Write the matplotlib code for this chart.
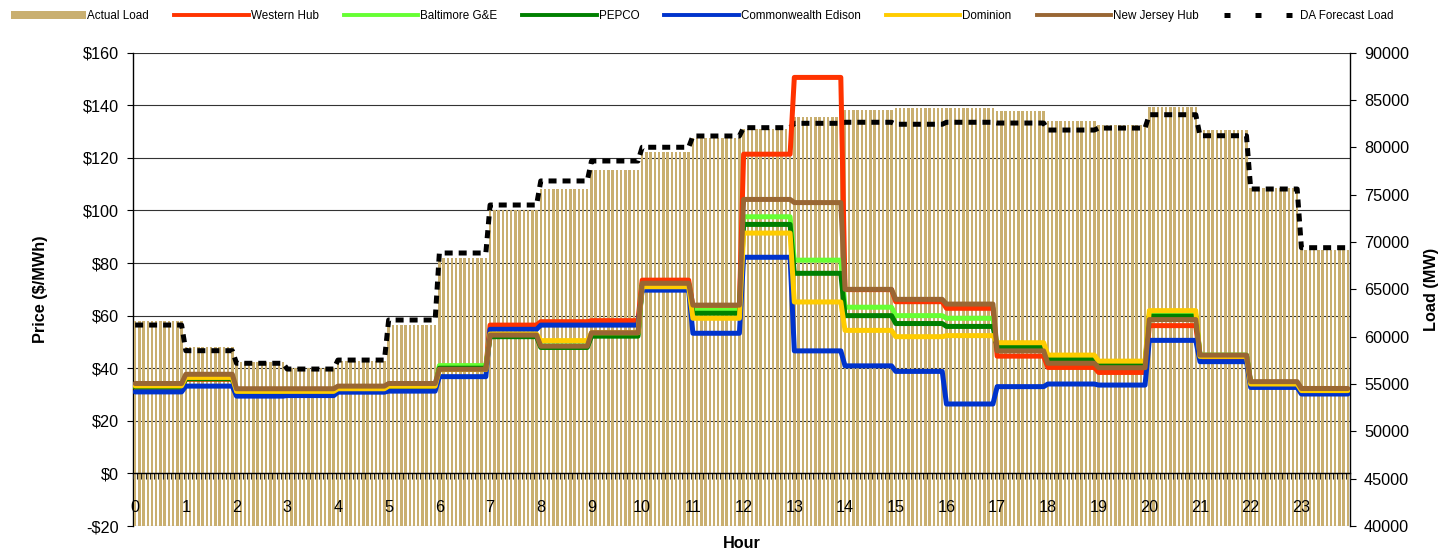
import numpy as np
import matplotlib
matplotlib.use("Agg")
import matplotlib.pyplot as plt
from matplotlib.lines import Line2D
from matplotlib.patches import Patch
from matplotlib.ticker import FuncFormatter, FixedLocator

plt.rcParams['font.family'] = ['Liberation Sans', 'DejaVu Sans']

hours = list(range(24))
hour_labels = [str(h) for h in hours]

actual_load = [61650, 58880, 57350, 56660, 57430, 61230, 68310, 73380, 75600, 77610,
               79510, 80960, 81940, 83240, 83950, 84130, 84130, 83840, 82780, 82360,
               84300, 81830, 75740, 69160]
da_forecast = [61230, 58520, 57190, 56580, 57530, 61760, 68840, 73910, 76450, 78560,
               80010, 81200, 82080, 82540, 82650, 82440, 82650, 82570, 81830, 82040,
               83450, 81230, 75600, 69400]

western_hub = [32.7, 35.8, 30.4, 30.5, 31.7, 32.6, 40.2, 56.4, 57.7, 58.1, 73.5, 63.5,
               121.4, 150.6, 69.9, 65.3, 62.8, 44.6, 40.3, 38.4, 56.2, 43.8, 33.8, 31.2]
baltimore = [33.0, 36.2, 30.8, 30.8, 32.0, 33.0, 41.0, 52.5, 48.5, 52.8, 71.5, 62.1,
             97.6, 81.1, 63.2, 60.0, 59.0, 48.4, 43.8, 41.5, 60.4, 45.0, 34.5, 31.8]
pepco = [32.8, 36.0, 30.7, 30.7, 31.9, 32.8, 40.0, 52.0, 47.9, 52.2, 71.3, 60.9,
         94.7, 76.1, 60.0, 57.0, 55.9, 48.0, 43.5, 41.2, 59.8, 44.8, 34.3, 31.7]
comed = [31.0, 33.2, 29.4, 29.6, 30.9, 31.3, 36.8, 54.8, 56.4, 56.4, 69.7, 53.3,
         82.2, 46.6, 40.9, 38.8, 26.4, 33.0, 34.0, 33.6, 50.6, 42.5, 32.7, 30.2]
dominion = [33.3, 36.5, 31.2, 31.2, 32.2, 33.2, 39.5, 53.0, 50.5, 53.5, 71.0, 59.0,
            91.4, 65.2, 54.4, 52.0, 52.4, 49.7, 45.0, 42.7, 61.9, 44.5, 34.0, 31.5]
nj_hub = [34.2, 37.7, 32.2, 32.2, 33.2, 34.2, 39.6, 52.6, 48.4, 53.5, 72.3, 64.0,
          104.2, 103.0, 70.0, 66.2, 64.4, 46.6, 41.9, 40.2, 58.5, 45.0, 34.9, 32.3]

series = [
    ("Western Hub", western_hub, "#FF3300"),
    ("Baltimore G&E", baltimore, "#66FF33"),
    ("PEPCO", pepco, "#008000"),
    ("Commonwealth Edison", comed, "#0033CC"),
    ("Dominion", dominion, "#FFCC00"),
    ("New Jersey Hub", nj_hub, "#996633"),
]
bar_color = "#C9AF70"
intervals = 12  # 5-minute intervals per hour

W, H = 1451, 551
fig = plt.figure(figsize=(W / 100, H / 100), dpi=100)
left, right, top, bottom = 133, 1350, 52.7, 526
rect = [left / W, 1 - bottom / H, (right - left) / W, (bottom - top) / H]

axG = fig.add_axes(rect)
axL = axG.twinx()
axP = axG.twinx()
axG.set_zorder(0)
axL.set_zorder(1)
axP.set_zorder(2)
axL.patch.set_visible(False)
axP.patch.set_visible(False)

# ---- grid / price axis (left)
axG.set_xlim(0, 24)
axG.set_ylim(-20, 160)
axG.set_yticks(np.arange(-20, 161, 20))
axG.yaxis.set_major_formatter(FuncFormatter(lambda v, p: f"-${abs(v):.0f}" if v < 0 else f"${v:.0f}"))
axG.grid(axis='y', color='#333333', lw=0.8)
axG.set_axisbelow(True)
axG.tick_params(axis='y', labelsize=11.7, length=4, width=0.8, pad=6, direction='out')
axG.xaxis.set_visible(False)
for s in ['top', 'bottom', 'right']:
    axG.spines[s].set_visible(False)
axG.spines['left'].set_linewidth(1.0)
axG.set_ylabel("Price ($/MWh)", fontsize=11.7, fontweight='bold', va='center')
axG.yaxis.set_label_coords((40 - left) / (right - left), 0.5)

# ---- load axis (right) with bars and DA forecast
xb = (np.arange(24 * intervals) + 0.5) / intervals
loads = np.repeat(actual_load, intervals)
axL.bar(xb, loads - 40000, bottom=40000, width=0.58 / intervals, color=bar_color, linewidth=0, zorder=1)
xs_step = np.column_stack([np.array(hours) + 0.5 / intervals, np.array(hours) + 1 - 0.5 / intervals]).ravel()
axL.plot(xs_step, np.repeat(da_forecast, 2), color='black', lw=3.6, dashes=(1.6, 1.2),
         solid_capstyle='butt', dash_capstyle='butt', zorder=3)
axL.set_ylim(40000, 90000)
axL.set_yticks(np.arange(40000, 90001, 5000))
axL.tick_params(axis='y', labelsize=11.7, length=4, width=0.8, pad=6, direction='out')
for s in ['top', 'bottom', 'left']:
    axL.spines[s].set_visible(False)
axL.spines['right'].set_linewidth(1.0)
axL.set_ylabel("Load (MW)", fontsize=11.7, fontweight='bold', va='center')
axL.yaxis.set_label_coords((1432 - left) / (right - left), 0.5)

# ---- price lines
for name, vals, col in series:
    axP.plot(xs_step, np.repeat(vals, 2), color=col, lw=3.6, solid_joinstyle='round',
             solid_capstyle='round', zorder=3)
axP.set_ylim(-20, 160)
axP.set_xlim(0, 24)
axP.yaxis.set_visible(False)
axP.xaxis.set_visible(True)
for s in ['top', 'left', 'right']:
    axP.spines[s].set_visible(False)
axP.spines['bottom'].set_visible(True)
axP.spines['bottom'].set_position(('data', 0))
axP.spines['bottom'].set_linewidth(1.0)
axP.xaxis.set_ticks_position('bottom')
axP.xaxis.set_major_locator(FixedLocator(np.array(hours) + 0.5 / intervals))
axP.set_xticklabels(hour_labels)
axP.xaxis.set_minor_locator(FixedLocator(np.arange(0, 24 * intervals + 1) / intervals))
axP.tick_params(axis='x', which='major', length=0, labelsize=11.7, pad=19)
axP.tick_params(axis='x', which='minor', length=4, width=0.8, color='#222222', direction='out')
axP.set_xlabel("Hour", fontsize=11.7, fontweight='bold', va='center')
axP.xaxis.set_label_coords(0.5, (bottom - 543) / (bottom - top))

# ---- legend
handles = [Patch(facecolor=bar_color, edgecolor='none', label="Actual Load")]
for name, vals, col in series:
    handles.append(Line2D([], [], color=col, lw=2.8, label=name))
handles.append(Line2D([], [], color='black', lw=3.6, dashes=(1.2, 5.0), label="DA Forecast Load"))
fig.legend(handles=handles, loc='center left', bbox_to_anchor=(11 / W, 1 - 16 / H), ncol=8,
           frameon=False, fontsize=8.4, handlelength=6.4, handletextpad=0.15, columnspacing=2.15,
           handleheight=0.6, borderpad=0, borderaxespad=0)

fig.savefig("out.png", dpi=100)
